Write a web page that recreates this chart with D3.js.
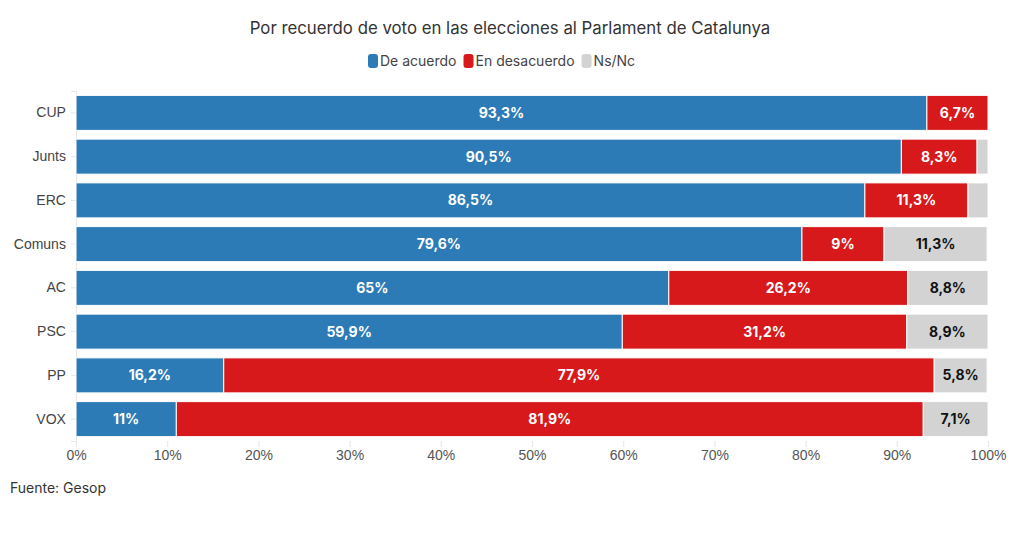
<!DOCTYPE html>
<html>
<head>
<meta charset="utf-8">
<script src="https://cdn.jsdelivr.net/npm/d3@7"></script>
<style>
  body { margin: 0; background: #fff; font-family: Inter, "Noto Sans", sans-serif; }
</style>
</head>
<body>
<div id="chart"></div>
<script>
// Recuerdo de voto - Parlament de Catalunya (Gesop)

const parties = ["CUP", "Junts", "ERC", "Comuns", "AC", "PSC", "PP", "VOX"];
const acuerdo = [93.3, 90.5, 86.5, 79.6, 65, 59.9, 16.2, 11];
const desacuerdo = [6.7, 8.3, 11.3, 9, 26.2, 31.2, 77.9, 81.9];
const nsnc = [0, 1.2, 2.2, 11.3, 8.8, 8.9, 5.8, 7.1];
const seriesNames = ["De acuerdo", "En desacuerdo", "Ns/Nc"];
const colors = ["#2c7bb6", "#d7191c", "#d3d3d3"];
const xTicks = [0, 10, 20, 30, 40, 50, 60, 70, 80, 90, 100];

const width = 1020, height = 533;
const margin = { top: 91, right: 32, bottom: 92, left: 76 };

const rows = parties.map((p, i) => ({
  party: p, "De acuerdo": acuerdo[i], "En desacuerdo": desacuerdo[i], "Ns/Nc": nsnc[i]
}));

const svg = d3.select("#chart").append("svg")
  .attr("width", width)
  .attr("height", height)
  .style("font-family", "Inter, 'Noto Sans', sans-serif");

const x = d3.scaleLinear().domain([0, 100]).range([margin.left, width - margin.right]);
const y = d3.scaleBand().domain(parties)
  .range([margin.top, height - margin.bottom])
  .paddingInner(0.2).paddingOuter(0.1);

// title
svg.append("text")
  .attr("x", 510).attr("y", 34)
  .attr("text-anchor", "middle")
  .style("font-size", "16.8px")
  .style("fill", "#333")
  .text("Por recuerdo de voto en las elecciones al Parlament de Catalunya");

// legend
const legend = svg.append("g");
let lx = 0;
seriesNames.forEach((name, i) => {
  const g = legend.append("g").attr("transform", `translate(${lx},0)`);
  g.append("rect").attr("x", 0).attr("y", -7).attr("width", 10).attr("height", 14)
    .attr("rx", 3).attr("fill", colors[i]);
  const t = g.append("text").attr("x", 12).attr("y", 5)
    .style("font-size", "14px").style("fill", "#444").text(name);
  lx += 12 + t.node().getComputedTextLength() + 7;
});
legend.attr("transform", `translate(368,61)`);

// axes
const xAxis = svg.append("g")
  .attr("transform", `translate(0,${height - margin.bottom})`)
  .call(d3.axisBottom(x).tickValues(xTicks).tickFormat(d => d + "%").tickSize(6));
xAxis.select(".domain").remove();
xAxis.selectAll("line").attr("stroke", "#e6e6e6");
xAxis.selectAll("text").style("font-size", "14px").style("fill", "#555").attr("dy", "0.7em");

const yAxis = svg.append("g")
  .attr("transform", `translate(${margin.left},0)`)
  .call(d3.axisLeft(y).tickSize(5));
yAxis.select(".domain").attr("stroke", "#e6e6e6");
yAxis.selectAll("line").attr("stroke", "#e6e6e6");
yAxis.selectAll("text").style("font-size", "14px").style("fill", "#444").attr("dx", "-0.15em");

// stacked bars
const stack = d3.stack().keys(seriesNames)(rows);

const layers = svg.append("g").selectAll("g")
  .data(stack)
  .join("g")
  .attr("fill", (d, i) => colors[i]);

layers.selectAll("rect")
  .data(d => d)
  .join("rect")
  .attr("x", d => x(d[0]))
  .attr("y", d => y(d.data.party))
  .attr("width", d => Math.max(0, x(d[1]) - x(d[0])))
  .attr("height", y.bandwidth())
  .attr("stroke", "#fff")
  .attr("stroke-width", 1);

layers.each(function (layer, li) {
  d3.select(this).selectAll("text")
    .data(layer.filter(d => d[1] - d[0] >= 4))
    .join("text")
    .attr("x", d => (x(d[0]) + x(d[1])) / 2)
    .attr("y", d => y(d.data.party) + y.bandwidth() / 2)
    .attr("dy", "0.35em")
    .attr("text-anchor", "middle")
    .style("font-size", "14px")
    .style("font-weight", "bold")
    .attr("fill", li === 2 ? "#111" : "#fff")
    .text(d => String(+(d[1] - d[0]).toFixed(1)).replace(".", ",") + "%");
});

// source
svg.append("text")
  .attr("x", 10).attr("y", 493)
  .style("font-size", "14px")
  .style("fill", "#333")
  .text("Fuente: Gesop");
</script>
</body>
</html>
